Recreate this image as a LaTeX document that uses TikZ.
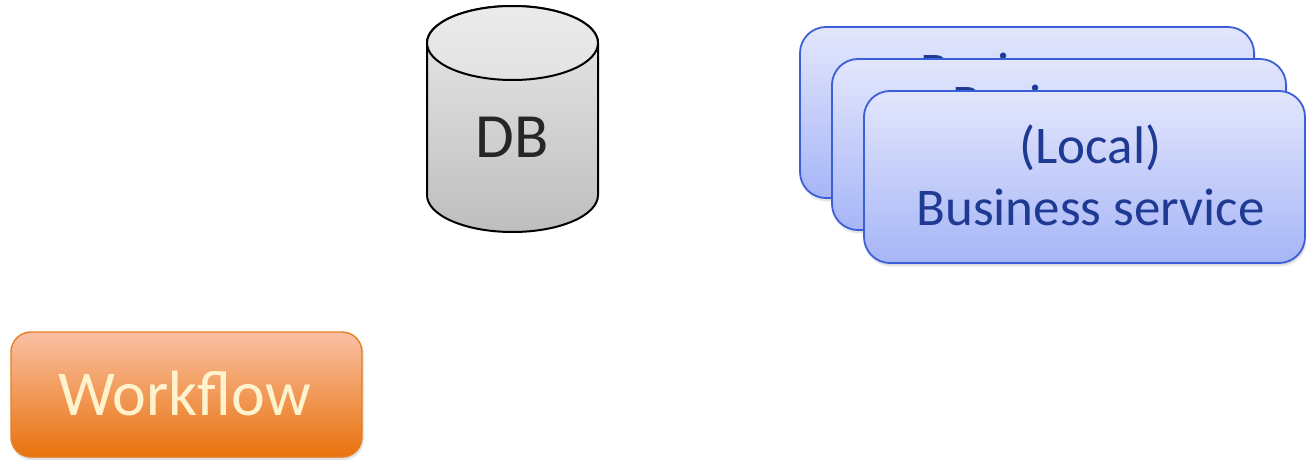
\documentclass[tikz,border=0pt]{standalone}
\usepackage{fontspec}
\setmainfont{Carlito}
\usetikzlibrary{shadows.blur}

\definecolor{svcTop}{RGB}{226,230,252}
\definecolor{svcBot}{RGB}{167,181,247}
\definecolor{svcLine}{RGB}{59,95,217}
\definecolor{svcText}{RGB}{31,58,147}
\definecolor{dbTop}{RGB}{233,233,233}
\definecolor{dbBot}{RGB}{190,190,190}
\definecolor{dbText}{RGB}{38,38,38}
\definecolor{wfTop}{RGB}{250,192,164}
\definecolor{wfBot}{RGB}{232,114,12}
\definecolor{wfLine}{RGB}{232,126,32}
\definecolor{wfText}{RGB}{255,243,206}

\tikzset{
  svcbox/.style={draw=svcLine, line width=1.8pt, rounded corners=26pt,
    top color=svcTop, bottom color=svcBot, inner sep=0pt,
    blur shadow={shadow xshift=1pt, shadow yshift=-2.5pt, shadow blur steps=6, shadow opacity=18}},
  svctext/.style={text=svcText, align=center, inner sep=0pt,
    font=\fontsize{53}{62}\selectfont},
  wfbox/.style={draw=wfLine, line width=1.4pt, rounded corners=20pt,
    top color=wfTop, bottom color=wfBot, inner sep=0pt,
    minimum width=351pt, minimum height=125pt,
    blur shadow={shadow xshift=1pt, shadow yshift=-2.5pt, shadow blur steps=6, shadow opacity=18}},
  dbline/.style={draw=black, line width=2pt},
}

\begin{document}
\begin{tikzpicture}[x=1pt, y=1pt]
\useasboundingbox (0,0) rectangle (1306,459);

% stack of business services, back to front
% (the base anchor of a two-line node sits on its last line)
\node (svcA) [svcbox, minimum width=454pt, minimum height=171pt] at (1027,346.5) {};
\node (svcAtxt) [svctext, anchor=base] at (1013,308) {Business\\service};
\node (svcB) [svcbox, minimum width=454pt, minimum height=171pt] at (1059,314.5) {};
\node (svcBtxt) [svctext, anchor=base] at (1045,276) {Business\\service};
\node (svcC) [svcbox, minimum width=441pt, minimum height=172pt] at (1084.5,282) {};
\node (svcCtxt) [svctext, anchor=base] at (1090.5,234) {(Local)\\Business service};

% database cylinder
\shade[dbline, top color=dbTop, bottom color=dbBot]
  (427,416) -- (427,264)
  arc[start angle=180, end angle=360, x radius=85.5, y radius=37]
  -- (598,416)
  arc[start angle=0, end angle=180, x radius=85.5, y radius=37] -- cycle;
\shade[dbline, top color=dbTop!92!white, bottom color=dbTop!85!dbBot]
  (512.5,416) ellipse [x radius=85.5, y radius=37];
\node (db) [text=dbText, anchor=base, inner sep=0pt,
  font=\fontsize{63}{75}\selectfont] at (512.5,302) {DB};

% workflow
\node (wf) [wfbox] at (186.5,64.5) {};
\node (wftxt) [text=wfText, anchor=base, inner sep=0pt,
  font=\fontsize{64}{76}\selectfont] at (184.5,44) {Workflow};
\end{tikzpicture}
\end{document}
